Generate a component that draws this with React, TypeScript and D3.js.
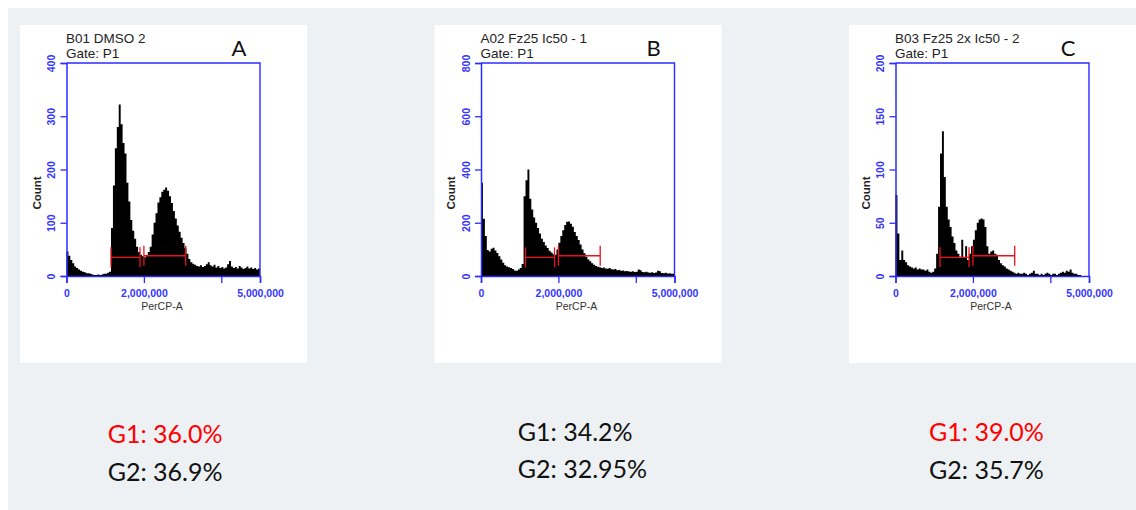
import React, { useEffect, useRef } from "react";
import * as d3 from "d3";

// PerCP-A histogram bins, 50,000 wide, 0 .. 5,000,000
const binWidth = 50000;

const countsA = [
  46, 38, 30, 24, 18, 15, 12, 10, 8, 7,
  5, 5, 4, 3, 2, 2, 3, 2, 3, 4,
  4, 6, 8, 90, 170, 240, 280, 322, 285, 250,
  230, 175, 140, 105, 85, 70, 55, 45, 40, 37,
  35, 38, 45, 55, 78, 100, 118, 138, 148, 158,
  162, 166, 160, 150, 137, 122, 108, 95, 83, 72,
  62, 52, 42, 32, 26, 23, 21, 19, 18, 20,
  17, 19, 22, 26, 20, 18, 21, 16, 19, 15,
  17, 14, 16, 22, 28, 18, 15, 17, 14, 19,
  16, 13, 15, 18, 14, 16, 13, 15, 12, 14,
];

const countsB = [
  350, 215, 150, 98, 92, 102, 106, 96, 86, 74,
  62, 50, 40, 36, 33, 30, 26, 21, 20, 24,
  30, 45, 300, 360, 400, 290, 250, 220, 200, 180,
  160, 140, 128, 115, 105, 95, 88, 82, 80, 100,
  125, 150, 172, 192, 204, 205, 196, 185, 165, 150,
  135, 118, 100, 85, 72, 62, 55, 48, 42, 38,
  35, 33, 30, 32, 28, 27, 30, 25, 24, 26,
  22, 23, 20, 21, 18, 19, 17, 16, 18, 15,
  16, 24, 22, 15, 14, 16, 13, 12, 14, 11,
  13, 20, 18, 11, 10, 12, 9, 10, 8, 8,
];

const countsC = [
  76, 40, 15, 24, 15, 13, 10, 9, 8, 7,
  8, 6, 7, 6, 6, 5, 6, 4, 3, 4,
  7, 21, 65, 115, 136, 93, 65, 53, 46, 37,
  31, 24, 21, 18, 34, 17, 28, 15, 21, 28,
  34, 43, 50, 53, 54, 53, 46, 28, 21, 23,
  24, 21, 20, 15, 12, 10, 9, 7, 6, 5,
  4, 3, 2, 3, 2, 2, 3, 2, 1, 2,
  3, 5, 2, 2, 1, 2, 1, 2, 3, 2,
  1, 2, 2, 1, 2, 3, 4, 3, 5, 4,
  6, 3, 2, 2, 1, 1, 0, 0, 0, 0,
];

const titles = ["B01 DMSO 2", "A02 Fz25 Ic50 - 1", "B03 Fz25 2x Ic50 - 2"];
const letters = ["A", "B", "C"];
const yMaxes = [400, 800, 200];
const yTicks = [
  [0, 100, 200, 300, 400],
  [0, 200, 400, 600, 800],
  [0, 50, 100, 150, 200],
];
const xTicks = [0, 2000000, 4000000, 5000000];
const xTickLabels = ["0", "2,000,000", "", "5,000,000"];

// gate markers (PerCP-A range) and the count level they sit at
const gateG1 = [1150000, 1900000];
const gateG2 = [2000000, 3080000];
const g1Levels = [35, 70, 17.5];
const g2Levels = [38, 76, 19];

const g1Labels = ["G1: 36.0%", "G1: 34.2%", "G1: 39.0%"];
const g2Labels = ["G2: 36.9%", "G2: 32.95%", "G2: 35.7%"];
const g1Red = [true, false, true];

const W = 1136;
const H = 510;
const blue = "#2b2bff";
const arial = "'Liberation Sans', Arial, sans-serif";
const calibri = "Lato, 'Open Sans', sans-serif";

export default function App() {
  const ref = useRef<SVGSVGElement>(null);

  useEffect(() => {
    const svg = d3.select(ref.current);
    svg.selectAll("*").remove();

    svg.append("rect").attr("width", W).attr("height", H).attr("fill", "#fff");
    svg.append("rect").attr("x", 8).attr("y", 8).attr("width", W - 8).attr("height", H - 8).attr("fill", "#edf1f4");

    const allCounts = [countsA, countsB, countsC];
    const panelW = 287, panelH = 338;
    const plotW = 193.5, plotH = 213;
    const labelLeft = [87.7, 83.3, 80];
    const base1 = [443, 441, 441];
    const base2 = [481, 478, 479];

    allCounts.forEach((counts, i) => {
      const px = 20 + i * 414.5;
      const g = svg.append("g").attr("transform", `translate(${px},25)`);
      g.append("rect").attr("width", panelW).attr("height", panelH).attr("fill", "#fff");

      g.append("text").attr("x", 46).attr("y", 18.3).attr("font-family", arial)
        .attr("font-size", 13.5).attr("fill", "#222").text(titles[i]);
      g.append("text").attr("x", 46).attr("y", 33.3).attr("font-family", arial)
        .attr("font-size", 13.5).attr("fill", "#222").text("Gate: P1");
      g.append("text").attr("x", 219).attr("y", 31).attr("text-anchor", "middle")
        .attr("font-family", calibri).attr("font-size", 22).attr("fill", "#111").text(letters[i]);

      const plot = g.append("g").attr("transform", "translate(46.5,38)");
      const x = d3.scaleLinear().domain([0, 5000000]).range([0, plotW]);
      const y = d3.scaleLinear().domain([0, yMaxes[i]]).range([plotH, 0]);

      const pts = counts.map((c, j) => ({ v: j * binWidth, c }));
      pts.push({ v: counts.length * binWidth, c: counts[counts.length - 1] });
      const area = d3.area<{ v: number; c: number }>()
        .x(d => x(d.v))
        .y0(plotH)
        .y1(d => y(d.c))
        .curve(d3.curveStepAfter);
      plot.append("path").attr("d", area(pts) as string).attr("fill", "#000");

      // gates
      [[gateG1, g1Levels[i]], [gateG2, g2Levels[i]]].forEach(([gate, lvl]) => {
        const rng = gate as number[];
        const yy = y(lvl as number);
        const gg = plot.append("g").attr("stroke", "#e8141c").attr("stroke-width", 1.3);
        gg.append("line").attr("x1", x(rng[0])).attr("x2", x(rng[1])).attr("y1", yy).attr("y2", yy);
        rng.forEach(v => {
          gg.append("line").attr("x1", x(v)).attr("x2", x(v)).attr("y1", yy - 10).attr("y2", yy + 10);
        });
      });

      // frame
      plot.append("path")
        .attr("d", `M0,0H${plotW}V${plotH}`)
        .attr("fill", "none").attr("stroke", blue).attr("stroke-width", 1.4);

      const yAxis = plot.append("g").call(
        d3.axisLeft(y).tickValues(yTicks[i]).tickSize(6).tickFormat(d3.format("d"))
      );
      const xAxis = plot.append("g").attr("transform", `translate(0,${plotH})`).call(
        d3.axisBottom(x).tickValues(xTicks).tickSize(7).tickFormat((_d, k) => xTickLabels[k])
      );
      [yAxis, xAxis].forEach(ax => {
        ax.select(".domain").attr("stroke", blue).attr("stroke-width", 1.5);
        ax.selectAll(".tick line").attr("stroke", blue).attr("stroke-width", 1.3);
        ax.selectAll(".tick text").attr("fill", "#3535ff").attr("font-family", arial)
          .attr("font-weight", "bold");
      });
      yAxis.selectAll(".tick text")
        .attr("transform", "rotate(-90)")
        .attr("x", 0).attr("y", -11.5).attr("dy", 0)
        .attr("text-anchor", "middle").attr("font-size", 10.5);
      xAxis.selectAll(".tick text").attr("y", 14).attr("font-size", 10.5);

      g.append("text").attr("transform", "translate(20.7,168) rotate(-90)")
        .attr("text-anchor", "middle").attr("font-family", arial).attr("font-size", 11.5)
        .attr("font-weight", "bold").attr("fill", "#222").text("Count");
      g.append("text").attr("x", 142).attr("y", 285).attr("text-anchor", "middle")
        .attr("font-family", arial).attr("font-size", 10.5).attr("fill", "#333").text("PerCP-A");

      svg.append("text").attr("x", px + labelLeft[i]).attr("y", base1[i])
        .attr("font-family", calibri).attr("font-size", 25)
        .attr("fill", g1Red[i] ? "#ff0000" : "#111").text(g1Labels[i]);
      svg.append("text").attr("x", px + labelLeft[i]).attr("y", base2[i])
        .attr("font-family", calibri).attr("font-size", 25)
        .attr("fill", "#111").text(g2Labels[i]);
    });
  }, []);

  return (
    <svg ref={ref} width={W} height={H} style={{ position: "absolute", left: 0, top: 0 }} />
  );
}
